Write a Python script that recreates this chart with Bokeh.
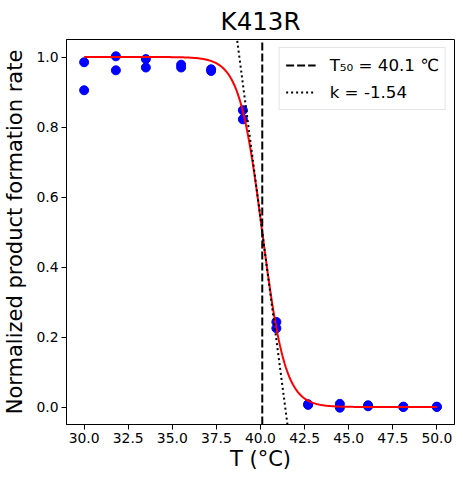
import numpy as np
from bokeh.plotting import figure
from bokeh.models import FixedTicker, PrintfTickFormatter
from bokeh.embed import file_html
from bokeh.resources import INLINE

# ---- data ----
TITLE = "K413R"
temps = [30.0, 30.0, 31.8, 31.8, 33.5, 33.5, 35.5, 35.5, 37.2, 37.2, 39.0, 39.0,
         40.9, 40.9, 42.7, 42.7, 44.5, 44.5, 46.1, 46.1, 48.1, 48.1, 50.0, 50.0]
rates = [0.985, 0.905, 1.002, 0.962, 0.994, 0.970, 0.978, 0.970, 0.965, 0.960, 0.848, 0.822,
         0.243, 0.225, 0.006, 0.008, 0.009, -0.002, 0.005, 0.002, 0.000, 0.001, 0.000, 0.001]
T50 = 40.1
K = -1.54
X_RANGE = (29.0, 51.0)
Y_RANGE = (-0.05, 1.05)
X_TICKS = [30.0, 32.5, 35.0, 37.5, 40.0, 42.5, 45.0, 47.5, 50.0]
Y_TICKS = [0.0, 0.2, 0.4, 0.6, 0.8, 1.0]
LABEL_T50 = "T\u2085\u2080 = 40.1 \u2103"
LABEL_K = "k = -1.54"

FONT = "DejaVu Sans"

p = figure(frame_width=388, frame_height=385, x_range=X_RANGE, y_range=Y_RANGE,
           output_backend="svg", toolbar_location=None, title=TITLE)
p.min_border_left = 59
p.min_border_right = 1
p.min_border_top = 32
p.min_border_bottom = 50

p.title.align = "center"
p.title.text_font = FONT
p.title.text_font_size = "24.5px"
p.title.text_font_style = "normal"
p.title.text_color = "black"
p.title.standoff = 8

p.grid.visible = False
p.outline_line_color = "black"
p.outline_line_width = 1
p.outline_line_alpha = 1.0

for ax in (p.xaxis, p.yaxis):
    ax.axis_line_color = "black"
    ax.major_tick_line_color = "black"
    ax.major_tick_in = 0
    ax.major_tick_out = 5
    ax.minor_tick_line_color = None
    ax.major_label_text_font = FONT
    ax.major_label_text_font_size = "13.9px"
    ax.major_label_text_color = "black"
    ax.major_label_standoff = 3
    ax.axis_label_text_font = FONT
    ax.axis_label_text_font_size = "21px"
    ax.axis_label_text_font_style = "normal"
    ax.axis_label_text_color = "black"
    ax.formatter = PrintfTickFormatter(format="%.1f")

p.xaxis.axis_label_standoff = 1
p.yaxis.axis_label_standoff = 6
p.xaxis.ticker = FixedTicker(ticks=X_TICKS)
p.yaxis.ticker = FixedTicker(ticks=Y_TICKS)
p.xaxis.axis_label = "T (\u00b0C)"
p.yaxis.axis_label = "Normalized product formation rate"

# data points
p.scatter(temps, rates, size=9, color="#0000ff", line_color="#0000ff")

# logistic fit curve
t_fit = np.linspace(min(temps), max(temps), 300)
y_fit = 1.0 / (1.0 + np.exp(-K * (t_fit - T50)))
p.line(t_fit, y_fit, line_color="#ff0000", line_width=2)

# T50 vertical line
p.line([T50, T50], list(Y_RANGE), line_color="black", line_width=2,
       line_dash="8 3", legend_label=LABEL_T50)

# tangent at T50 (slope k/4)
ys = np.array(Y_RANGE)
xs = T50 + (ys - 0.5) / (K / 4.0)
p.line(xs, ys, line_color="black", line_width=2, line_dash="2 3",
       legend_label=LABEL_K)

lg = p.legend[0]
lg.location = "top_right"
lg.margin = 8
lg.padding = 6
lg.spacing = 5
lg.glyph_width = 30
lg.glyph_height = 22
lg.label_height = 22
lg.label_standoff = 14
lg.label_text_font = FONT
lg.label_text_font_size = "16.7px"
lg.label_text_color = "black"
lg.border_line_color = "#cccccc"
lg.border_line_width = 1
lg.background_fill_alpha = 0.8

open("out.html", "w").write(file_html(p, INLINE))
